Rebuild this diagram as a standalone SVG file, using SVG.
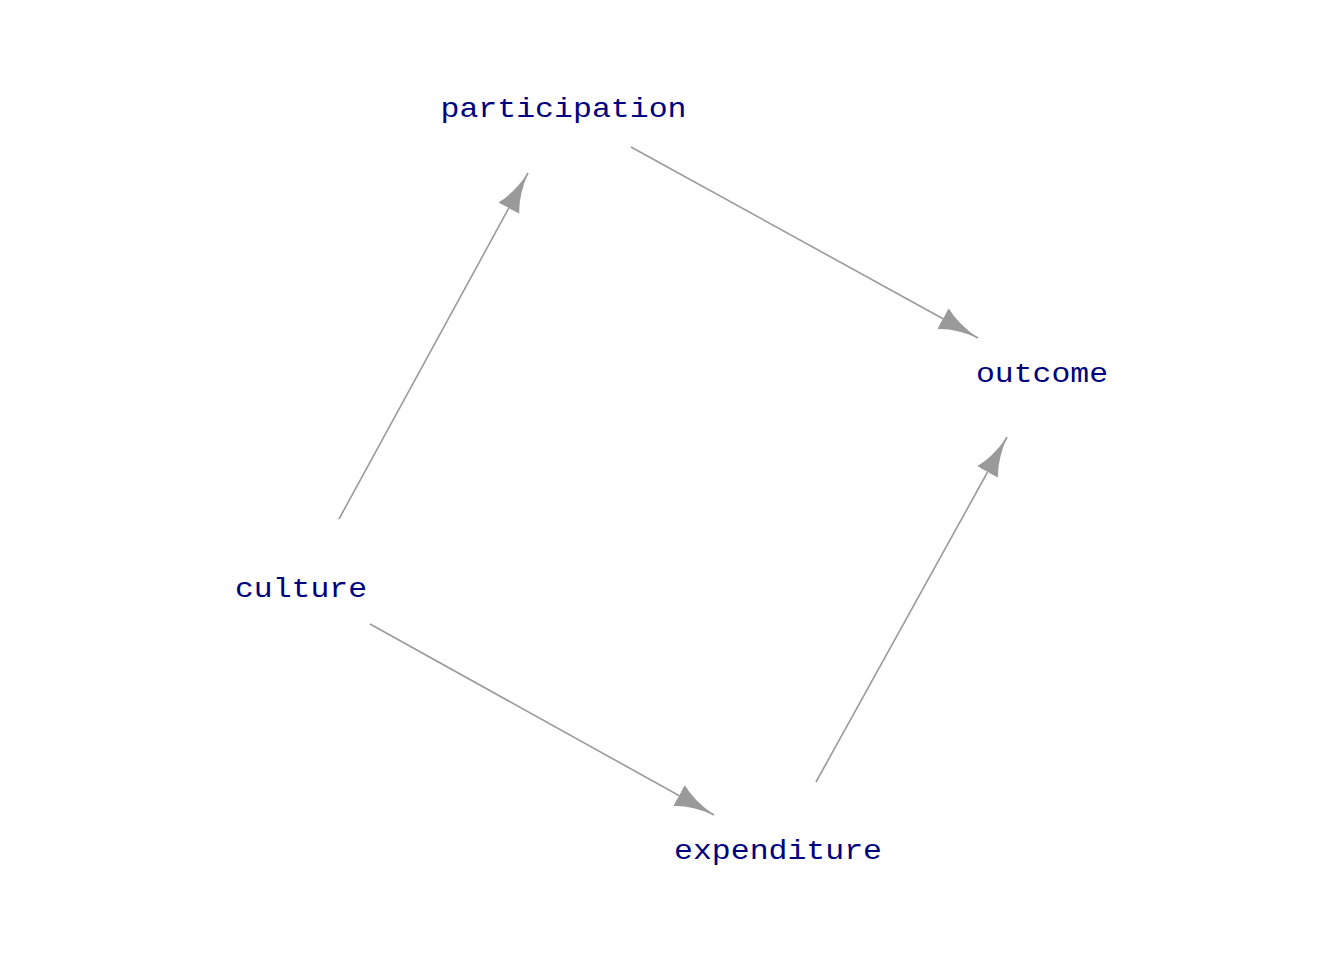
<svg xmlns="http://www.w3.org/2000/svg" width="1344" height="960" viewBox="0 0 1344 960">
<style>
.lbl{font-family:"Liberation Mono","Courier New",monospace;font-size:28px;fill:#00007f;text-anchor:middle}
.edge{stroke:#9a9a9a;stroke-width:1.6;fill:none}
</style>
<defs>
<marker id="ah" markerUnits="userSpaceOnUse" markerWidth="42" markerHeight="24" refX="40" refY="0" orient="auto" viewBox="0 -12 42 24">
<path d="M40,0 Q14,-3 0,-12 L0,12 Q14,3 40,0 Z" fill="#9a9a9a"/>
</marker>
</defs>
<rect width="1344" height="960" fill="#fff"/>
<g id="connectors">
<line class="edge" x1="339" y1="519" x2="528" y2="173" marker-end="url(#ah)"/>
<line class="edge" x1="631" y1="147" x2="978" y2="338" marker-end="url(#ah)"/>
<line class="edge" x1="370" y1="624" x2="714" y2="815" marker-end="url(#ah)"/>
<line class="edge" x1="816" y1="782" x2="1007" y2="437" marker-end="url(#ah)"/>
</g>
<g id="participation"><text class="lbl" x="563.5" y="117" textLength="246" lengthAdjust="spacingAndGlyphs">participation</text></g>
<g id="outcome"><text class="lbl" x="1042" y="382" textLength="132" lengthAdjust="spacingAndGlyphs">outcome</text></g>
<g id="culture"><text class="lbl" x="301" y="597" textLength="132" lengthAdjust="spacingAndGlyphs">culture</text></g>
<g id="expenditure"><text class="lbl" x="778" y="859" textLength="208" lengthAdjust="spacingAndGlyphs">expenditure</text></g>
</svg>
